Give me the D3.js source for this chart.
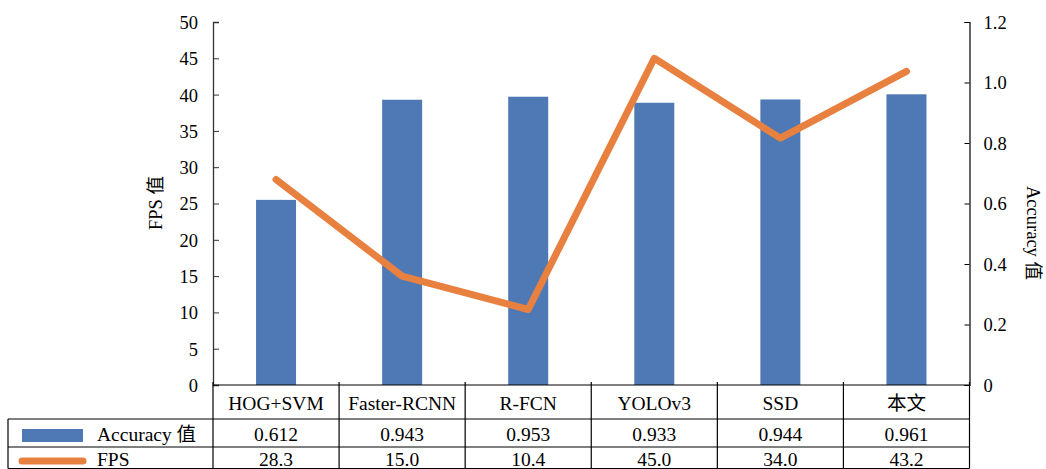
<!DOCTYPE html>
<html><head><meta charset="utf-8">
<script src="https://cdn.jsdelivr.net/npm/d3@7"></script>
<style>
body{margin:0;background:#fff;}
</style></head>
<body><svg id="c" width="1046" height="469"></svg>
<script>
const categories = ["HOG+SVM","Faster-RCNN","R-FCN","YOLOv3","SSD","本文"];
const accuracy = [0.612,0.943,0.953,0.933,0.944,0.961];
const fps = [28.3,15.0,10.4,45.0,34.0,43.2];
const accuracyLabels = ["0.612","0.943","0.953","0.933","0.944","0.961"];
const fpsLabels = ["28.3","15.0","10.4","45.0","34.0","43.2"];
const leftTicks = [0,5,10,15,20,25,30,35,40,45,50];
const rightTicks = [0,0.2,0.4,0.6,0.8,1.0,1.2];
const seriesNames = ["Accuracy 值","FPS"];

const FONT = "'Liberation Serif', 'Times New Roman', Times, 'DejaVu Serif', 'Noto Sans CJK SC', serif";
const svg = d3.select("#c");
const L = 213, R = 969.5, T = 22, B = 385;
const x = d3.scaleBand().domain(categories).range([L, R]);
const yL = d3.scaleLinear().domain([0,50]).range([B, T]);
const yR = d3.scaleLinear().domain([0,1.2]).range([B, T]);
const blue = "#4e79b5", orange = "#e8803f";
const bw = 40;

// bars (accuracy on right axis)
svg.append("g").selectAll("rect").data(categories).join("rect")
  .attr("x", d => x(d) + x.bandwidth()/2 - bw/2)
  .attr("width", bw)
  .attr("y", (d,i) => yR(accuracy[i]))
  .attr("height", (d,i) => B - yR(accuracy[i]))
  .attr("fill", blue);

// line (fps on left axis)
const line = d3.line().x((d,i) => x(categories[i]) + x.bandwidth()/2).y(d => yL(d));
svg.append("path").datum(fps).attr("d", line)
  .attr("fill","none").attr("stroke", orange).attr("stroke-width", 7)
  .attr("stroke-linecap","round").attr("stroke-linejoin","round");

// left axis
const gl = svg.append("g").attr("transform", `translate(${L},0)`)
  .call(d3.axisRight(yL).tickValues(leftTicks).tickSize(6).tickFormat(d3.format("d")));
gl.attr("font-family", FONT).attr("font-size", 18.5);
gl.select(".domain").attr("stroke","#333").attr("stroke-width",1.3);
gl.selectAll(".tick line").attr("stroke","#333");
gl.selectAll(".tick text").attr("x",-15).attr("text-anchor","end").attr("dy","0.35em");

// right axis
const gr = svg.append("g").attr("transform", `translate(${R},0)`)
  .call(d3.axisLeft(yR).tickValues(rightTicks).tickSize(5).tickFormat(d => d === 0 ? "0" : d3.format(".1f")(d)));
gr.attr("font-family", FONT).attr("font-size", 18.5);
gr.select(".domain").attr("stroke","#000").attr("stroke-width",1.2);
gr.selectAll(".tick line").attr("stroke","#000");
gr.selectAll(".tick text").attr("x",14).attr("text-anchor","start").attr("dy","0.35em");

const txt = svg.append("g").attr("font-family", FONT).attr("font-size", 19.5).attr("fill", "#000");

// axis titles
txt.append("text").attr("transform","translate(162,203) rotate(-90)").attr("text-anchor","middle").attr("font-size",18.5).text("FPS 值");
txt.append("text").attr("transform","translate(1027,233) rotate(90)").attr("text-anchor","middle").attr("font-size",18.5).text("Accuracy 值");

// table
const tg = svg.append("g").attr("stroke","#000").attr("stroke-width",1.2);
const rowY = [385, 419, 447, 468.5];
tg.append("line").attr("x1",L).attr("x2",R).attr("y1",B).attr("y2",B);
tg.append("line").attr("x1",8).attr("x2",R).attr("y1",rowY[1]).attr("y2",rowY[1]);
tg.append("line").attr("x1",8).attr("x2",R).attr("y1",rowY[2]).attr("y2",rowY[2]);
tg.append("line").attr("x1",8).attr("x2",R).attr("y1",rowY[3]).attr("y2",rowY[3]);
tg.append("line").attr("x1",8).attr("x2",8).attr("y1",rowY[1]).attr("y2",rowY[3]);
const bounds = categories.map(c => x(c)).concat([R]);
tg.selectAll("line.v").data(bounds).join("line").attr("class","v")
  .attr("x1",d=>d).attr("x2",d=>d).attr("y1",B-3).attr("y2",rowY[3]);

const cx = d => x(d) + x.bandwidth()/2;
txt.append("g").selectAll("text").data(categories).join("text")
  .attr("x", cx).attr("y", 403).attr("dy","0.35em").attr("text-anchor","middle").text(d => d);
txt.append("g").selectAll("text").data(categories).join("text")
  .attr("x", cx).attr("y", 434).attr("dy","0.35em").attr("text-anchor","middle").text((d,i) => accuracyLabels[i]);
txt.append("g").selectAll("text").data(categories).join("text")
  .attr("x", cx).attr("y", 459).attr("dy","0.35em").attr("text-anchor","middle").text((d,i) => fpsLabels[i]);

// legend keys
svg.append("rect").attr("x",22).attr("y",429).attr("width",61).attr("height",13).attr("fill",blue);
svg.append("line").attr("x1",22).attr("x2",83).attr("y1",461).attr("y2",461)
  .attr("stroke",orange).attr("stroke-width",7).attr("stroke-linecap","round");
txt.append("text").attr("x",97).attr("y",434).attr("dy","0.35em").text(seriesNames[0]);
txt.append("text").attr("x",97).attr("y",459).attr("dy","0.35em").text(seriesNames[1]);
</script></body></html>
